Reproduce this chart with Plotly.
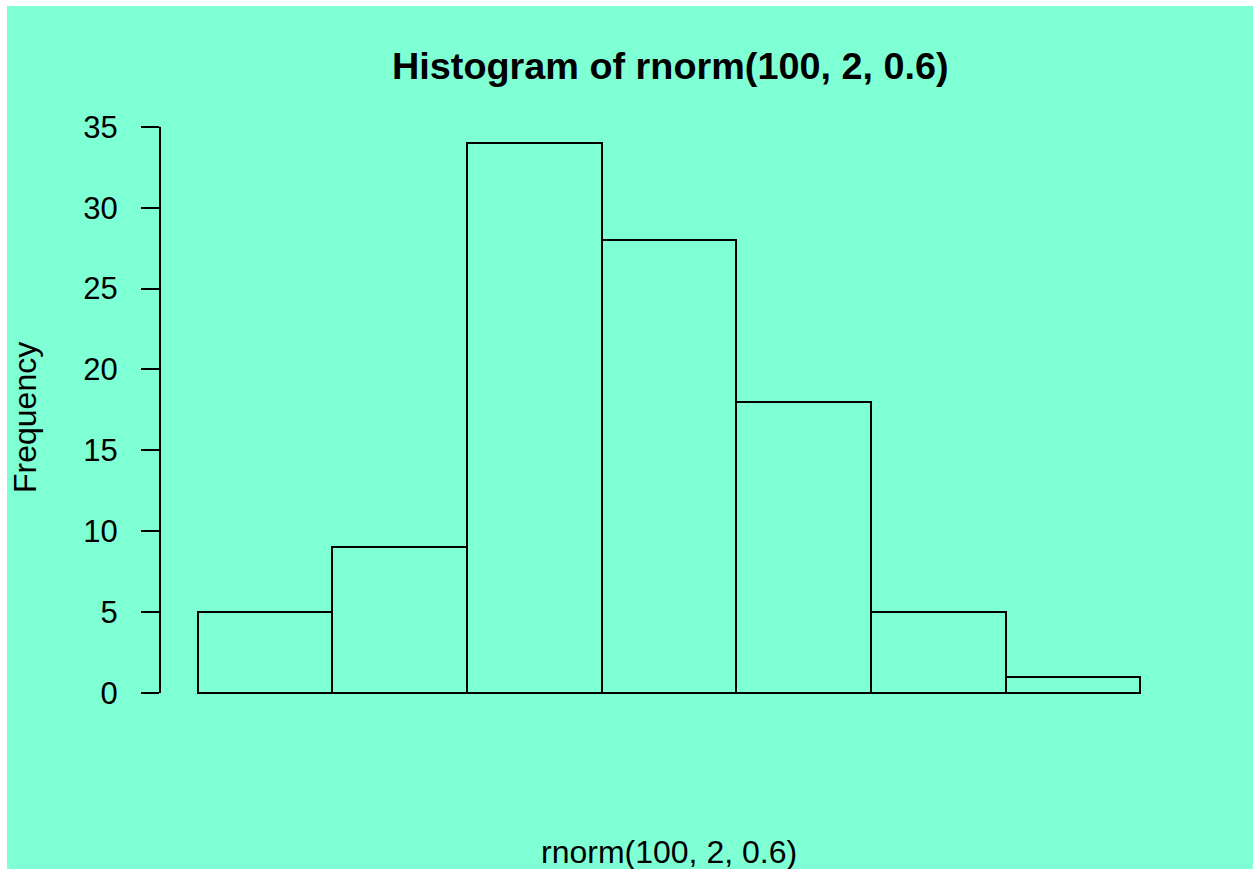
import plotly.graph_objects as go

# Histogram of rnorm(100, 2, 0.6): bin edges and counts per bin
bin_edges = [0.5, 1.0, 1.5, 2.0, 2.5, 3.0, 3.5, 4.0]
counts = [5, 9, 34, 28, 18, 5, 1]
y_ticks = [0, 5, 10, 15, 20, 25, 30, 35]

BG = "#7FFFD4"
FONT = "Liberation Sans, Arial, sans-serif"

W, H = 1253, 869
L, R, T, B = 160, 75, 121, 154

centers = [(a + b) / 2 for a, b in zip(bin_edges[:-1], bin_edges[1:])]
widths = [b - a for a, b in zip(bin_edges[:-1], bin_edges[1:])]

# R-style 4% padding around the data range
span_x = bin_edges[-1] - bin_edges[0]
x_range = [bin_edges[0] - 0.04 * span_x, bin_edges[-1] + 0.04 * span_x]
y_max = max(counts)
y_range = [-0.04 * y_max, y_max * 1.04]

fig = go.Figure(
    go.Bar(
        x=centers,
        y=counts,
        width=widths,
        marker=dict(color=BG, line=dict(color="black", width=2)),
        hoverinfo="x+y",
    )
)

pw, ph = W - L - R, H - T - B


def px_x(p):
    return (p - L) / pw


def px_y(p):
    return (H - B - p) / ph


fig.update_layout(
    width=W,
    height=H,
    autosize=False,
    margin=dict(l=L, r=R, t=T, b=B, pad=0),
    paper_bgcolor=BG,
    plot_bgcolor=BG,
    bargap=0,
    showlegend=False,
    font=dict(family=FONT, color="black", size=31),
    xaxis=dict(
        range=x_range,
        visible=False,
        showgrid=False,
        zeroline=False,
    ),
    yaxis=dict(
        range=y_range,
        tickvals=y_ticks,
        ticktext=[str(v) for v in y_ticks],
        ticks="outside",
        ticklen=18,
        tickwidth=2,
        tickcolor="black",
        ticklabelstandoff=17,
        tickfont=dict(family=FONT, size=31, color="black"),
        showline=False,
        showgrid=False,
        zeroline=False,
    ),
    shapes=[
        # y axis line spanning only the tick range
        dict(type="line", xref="paper", yref="y", x0=0, x1=0,
             y0=y_ticks[0], y1=y_ticks[-1],
             line=dict(color="black", width=2)),
        # thin white frame on the top and left edges
        dict(type="rect", xref="paper", yref="paper",
             x0=px_x(0), x1=px_x(W), y0=px_y(6), y1=px_y(0),
             fillcolor="white", line=dict(width=0), layer="above"),
        dict(type="rect", xref="paper", yref="paper",
             x0=px_x(0), x1=px_x(7), y0=px_y(H), y1=px_y(0),
             fillcolor="white", line=dict(width=0), layer="above"),
    ],
    annotations=[
        dict(text="<b>Histogram of rnorm(100, 2, 0.6)</b>",
             xref="paper", yref="paper", x=px_x(670), y=px_y(66),
             xanchor="center", yanchor="middle", showarrow=False,
             font=dict(family=FONT, size=37.8, color="black")),
        dict(text="rnorm(100, 2, 0.6)",
             xref="paper", yref="paper", x=px_x(669), y=px_y(852),
             xanchor="center", yanchor="middle", showarrow=False,
             font=dict(family=FONT, size=32, color="black")),
        dict(text="Frequency", textangle=-90,
             xref="paper", yref="paper", x=px_x(25), y=px_y(418),
             xanchor="center", yanchor="middle", showarrow=False,
             font=dict(family=FONT, size=32, color="black")),
    ],
)

fig.write_html("out.html")
